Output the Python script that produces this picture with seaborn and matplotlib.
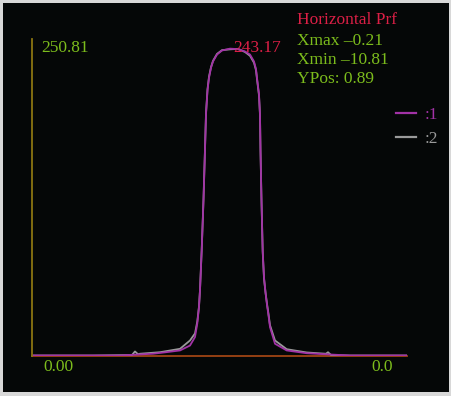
import matplotlib
matplotlib.use("Agg")
import matplotlib.pyplot as plt
import seaborn as sns
import pandas as pd
from matplotlib.patches import Rectangle

# profile position (samples) and intensity
pos_1 = [0, 61, 88, 121, 133, 148, 158, 163, 165.3, 167, 168, 169.7, 171.5, 173, 174,
         175.5, 177, 179, 181, 185, 190, 198, 206, 213, 218, 222, 224, 225, 227, 228,
         228.5, 229.5, 230.7, 232, 233.5, 235, 236.3, 238, 243, 254.7, 274.7, 298, 318, 375]
val_1 = [0.0, 0.0, 0.0, 1.4, 2.5, 4.0, 7.9, 14.6, 25.4, 38.4, 51.7, 83, 123, 163, 191,
         210, 220, 228, 233, 238.5, 241.7, 243.17, 242.8, 240.9, 238.5, 233, 227, 220, 207, 191,
         163, 123, 83, 62, 50, 40, 33, 22.5, 9.3, 4.0, 1.8, 0.8, 0.0, 0.0]

pos_2 = [0, 61, 100, 103, 106, 108, 128, 148, 158, 163, 165.3, 167, 168, 169.7, 171.5, 173,
         174, 175.5, 177, 179, 181, 185, 190, 198, 206, 213, 218, 222, 224, 225, 227, 228,
         228.5, 229.5, 230.7, 232, 233.5, 235, 236.3, 238, 243, 254.7, 274.7, 294, 296, 299, 318, 375]
val_2 = [0.0, 0.0, 0.4, 3.2, 1.0, 1.4, 2.6, 5.3, 11.9, 17.5, 27, 39, 52, 84, 124, 164,
         192, 211, 221, 228.5, 233.5, 239, 242, 242.6, 243.0, 240.5, 237.5, 232, 226, 219, 206, 190,
         162, 122, 82, 61, 50, 41, 34, 24, 11.9, 5.0, 2.4, 1.4, 2.6, 0.4, 0.0, 0.0]

y_top = 250.81
peak = 243.17
info = ["Xmax \u20130.21", "Xmin \u201310.81", "YPos: 0.89"]

df = pd.concat([
    pd.DataFrame({"pos": pos_1, "val": val_1, "series": ":1"}),
    pd.DataFrame({"pos": pos_2, "val": val_2, "series": ":2"}),
])

W, H = 452, 396
plt.rcParams["font.family"] = ["Liberation Serif", "DejaVu Serif"]
plt.rcParams["font.size"] = 12.5

fig = plt.figure(figsize=(W / 100, H / 100), dpi=100, facecolor="#d8d8d8")
fig.add_artist(Rectangle((3 / W, 1 - 392 / H), 446 / W, 389 / H,
                         transform=fig.transFigure, facecolor="#050707", edgecolor="none", zorder=0))

def fx(px):
    return px / W

def fy(py):
    return 1 - py / H

ax = fig.add_axes([fx(32), fy(355.5), 375 / W, (355.5 - 39) / H])
ax.set_facecolor("none")

green = "#7cbc1c"
crimson = "#dc1f46"
purple = "#a232a6"
grey = "#9a9a9a"

sns.lineplot(data=df, x="pos", y="val", hue="series", hue_order=[":2", ":1"],
             palette={":1": purple, ":2": grey}, linewidth=1.3, legend=False, ax=ax)

ax.set_xlim(0, 375)
ax.set_ylim(0, y_top)
ax.set_xticks([])
ax.set_yticks([])
ax.set_xlabel("")
ax.set_ylabel("")
for s in ["top", "right"]:
    ax.spines[s].set_visible(False)
ax.spines["left"].set_color("#8a7410")
ax.spines["left"].set_linewidth(1.3)
ax.spines["bottom"].set_color("#a04414")
ax.spines["bottom"].set_linewidth(1.3)
ax.spines["bottom"].set_zorder(0)

# legend with coloured labels
lines = ax.get_lines()
handles = [lines[1], lines[0]]
leg = fig.legend(handles, [":1", ":2"], loc="upper left", bbox_to_anchor=(fx(396), fy(107)),
                 frameon=False, handlelength=1.15, handletextpad=0.5, labelspacing=0.45,
                 labelcolor=[purple, grey], borderpad=0, borderaxespad=0)
for h in leg.legend_handles:
    h.set_linewidth(1.6)

fig.text(fx(41), fy(48), f"{y_top:.2f}", color=green, va="center", ha="left")
fig.text(fx(233), fy(48), f"{peak:.2f}", color=crimson, va="center", ha="left")
fig.text(fx(297), fy(20), "Horizontal Prf", color=crimson, va="center", ha="left")
for i, t in enumerate(info):
    fig.text(fx(297), fy(41 + 18.8 * i), t, color=green, va="center", ha="left")
fig.text(fx(43), fy(367), "0.00", color=green, va="center", ha="left")
fig.text(fx(393), fy(367), "0.0", color=green, va="center", ha="right")

fig.savefig("out.png", dpi=100, facecolor=fig.get_facecolor())
